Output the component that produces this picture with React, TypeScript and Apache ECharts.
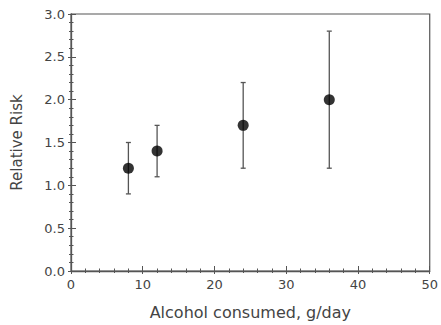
import React, { useEffect, useRef } from "react";
import * as echarts from "echarts";

const doses = [8, 12, 24, 36];
const relativeRisk = [1.2, 1.4, 1.7, 2.0];
const lowerCI = [0.9, 1.1, 1.2, 1.2];
const upperCI = [1.5, 1.7, 2.2, 2.8];
const xTitle = "Alcohol consumed, g/day";
const yTitle = "Relative Risk";

export default function App() {
  const ref = useRef<HTMLDivElement>(null);
  useEffect(() => {
    if (!ref.current) return;
    const chart = echarts.init(ref.current, null, { renderer: "svg" });
    const axisColor = "#555";
    const font = "'DejaVu Sans', sans-serif";
    const labelColor = "#444";
    const xBase = { type: "value", min: 0, max: 50, interval: 10, splitLine: { show: false } };
    const yBase = { type: "value", min: 0, max: 3, interval: 0.5, splitLine: { show: false } };
    chart.setOption({
      animation: false,
      grid: {
        left: 71,
        right: 8,
        top: 14,
        bottom: 54,
        show: true,
        borderColor: axisColor,
        borderWidth: 1.2,
        backgroundColor: "transparent",
      },
      xAxis: [
        {
          ...xBase,
          name: xTitle,
          nameLocation: "middle",
          nameGap: 33,
          nameTextStyle: { color: labelColor, fontSize: 16, fontFamily: font },
          axisLine: { show: true, lineStyle: { color: axisColor, width: 1.3 } },
          axisTick: { show: true, inside: false, length: 3, lineStyle: { color: axisColor } },
          minorTick: { show: true, splitNumber: 5, length: 2, lineStyle: { color: axisColor } },
          axisLabel: { color: labelColor, fontSize: 13, fontFamily: font, margin: 7 },
        },
        {
          ...xBase,
          position: "bottom",
          axisLine: { show: false },
          axisTick: { show: true, inside: true, length: 5, lineStyle: { color: axisColor } },
          minorTick: { show: true, splitNumber: 5, length: 2.5, lineStyle: { color: axisColor } },
          axisLabel: { show: false },
        },
      ],
      yAxis: [
        {
          ...yBase,
          name: yTitle,
          nameLocation: "middle",
          nameGap: 47,
          nameTextStyle: { color: labelColor, fontSize: 15, fontFamily: font },
          axisLine: { show: true, lineStyle: { color: axisColor, width: 1.3 } },
          axisTick: { show: true, inside: false, length: 3, lineStyle: { color: axisColor } },
          minorTick: { show: true, splitNumber: 5, length: 2, lineStyle: { color: axisColor } },
          axisLabel: {
            color: labelColor,
            fontSize: 13,
            fontFamily: font,
            margin: 6,
            formatter: (v: number) => v.toFixed(1),
          },
        },
        {
          ...yBase,
          position: "left",
          axisLine: { show: false },
          axisTick: { show: true, inside: true, length: 5, lineStyle: { color: axisColor } },
          minorTick: { show: true, splitNumber: 5, length: 2.5, lineStyle: { color: axisColor } },
          axisLabel: { show: false },
        },
      ],
      series: [
        {
          type: "custom",
          data: doses.map((d, i) => [d, lowerCI[i], upperCI[i]]),
          renderItem: (params: any, api: any) => {
            const x = api.value(0);
            const lo = api.coord([x, api.value(1)]);
            const hi = api.coord([x, api.value(2)]);
            const cap = 2.5;
            const style = { stroke: "#555", lineWidth: 1.3 };
            return {
              type: "group",
              children: [
                { type: "line", shape: { x1: lo[0], y1: lo[1], x2: hi[0], y2: hi[1] }, style },
                { type: "line", shape: { x1: lo[0] - cap, y1: lo[1], x2: lo[0] + cap, y2: lo[1] }, style },
                { type: "line", shape: { x1: hi[0] - cap, y1: hi[1], x2: hi[0] + cap, y2: hi[1] }, style },
              ],
            };
          },
          z: 1,
        },
        {
          type: "scatter",
          data: doses.map((d, i) => [d, relativeRisk[i]]),
          symbol: "circle",
          symbolSize: 11,
          itemStyle: { color: "#000" },
          z: 2,
        },
      ],
    });
    return () => chart.dispose();
  }, []);
  return (
    <div
      ref={ref}
      style={{ position: "absolute", left: 0, top: 0, width: 441, height: 325 }}
    />
  );
}
